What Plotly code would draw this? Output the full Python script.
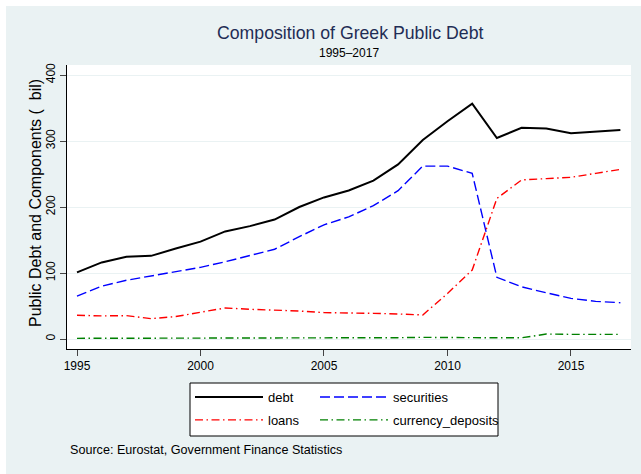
import plotly.graph_objects as go

# Greek general government debt and its main components, EUR billions
years = list(range(1995, 2018))
debt = [101, 116, 124.7, 126, 137, 147.5, 163, 171, 181, 200, 214.5, 225,
        240, 264.6, 301.5, 330, 356.6, 304.5, 320, 319, 311.6, 314.6, 316.6]
securities = [65, 80, 89, 95.5, 102.5, 108.6, 117, 126, 136, 155, 173, 185,
              202, 224.7, 262, 262, 251, 93.5, 79, 70, 61.6, 57, 55]
loans = [36, 35, 35.4, 30.8, 34, 40, 47, 45, 44, 42.4, 40, 40,
         38.9, 37.9, 36.4, 69, 104.5, 213, 241, 243, 245, 251, 257]
currency_deposits = [1, 1, 1, 1, 1, 1, 1, 1.2, 1.5, 1.8, 2, 2,
                     2, 2, 2.5, 2, 1.8, 1.8, 1.8, 7.5, 7, 7, 7]

x_ticks = [1995, 2000, 2005, 2010, 2015]
y_ticks = [0, 100, 200, 300, 400]

W, H = 641, 474
L, R, T, B = 67, 10, 65, 125
pw, ph = W - L - R, H - T - B


def px_x(p):
    return (p - L) / pw


def px_y(p):
    return (H - B - p) / ph


fig = go.Figure()
fig.add_trace(go.Scatter(x=years, y=debt, name="debt", mode="lines",
                         line=dict(color="#000000", width=2),
                         legend="legend", legendgroup="a"))
fig.add_trace(go.Scatter(x=years, y=securities, name="securities", mode="lines",
                         line=dict(color="#0000ff", width=1.4, dash="10px,4px"),
                         legend="legend2", legendgroup="b"))
fig.add_trace(go.Scatter(x=years, y=loans, name="loans", mode="lines",
                         line=dict(color="#ff0000", width=1.4,
                                   dash="8px,3.5px,1.5px,3.5px"),
                         legend="legend", legendgroup="c"))
fig.add_trace(go.Scatter(x=years, y=currency_deposits, name="currency_deposits",
                         mode="lines",
                         line=dict(color="#008000", width=1.4,
                                   dash="8px,3.5px,1.5px,3.5px"),
                         legend="legend2", legendgroup="d"))

bg = "#eaf2f3"
font = "Liberation Sans, Arial, sans-serif"

legend_common = dict(orientation="v", bgcolor="rgba(0,0,0,0)", borderwidth=0,
                     font=dict(family=font, size=13, color="#000"),
                     xanchor="left", yanchor="top", itemwidth=68,
                     tracegroupgap=3)

fig.update_layout(
    width=W, height=H,
    margin=dict(l=L, r=R, t=T, b=B),
    paper_bgcolor=bg, plot_bgcolor="#ffffff",
    font=dict(family=font, color="#000"),
    showlegend=True,
    legend=dict(x=px_x(190), y=px_y(382), **legend_common),
    legend2=dict(x=px_x(315), y=px_y(382), **legend_common),
    xaxis=dict(range=[1994.595, 2017.43], tickvals=x_ticks, ticks="outside",
               ticklen=6, tickcolor="#444", showline=True, linecolor="#000",
               linewidth=1, showgrid=False, zeroline=False,
               tickfont=dict(size=12, color="#000")),
    yaxis=dict(range=[-15.15, 415.15], tickvals=y_ticks, ticks="outside",
               ticklen=6, tickcolor="#444", showline=True, linecolor="#000",
               linewidth=1, showgrid=True, gridcolor=bg, gridwidth=1,
               zeroline=False, tickangle=-90,
               tickfont=dict(size=12, color="#000")),
    shapes=[
        # legend frame
        dict(type="rect", xref="paper", yref="paper",
             x0=px_x(190), x1=px_x(498), y0=px_y(436), y1=px_y(383),
             fillcolor="#ffffff", line=dict(color="#000", width=1),
             layer="above"),
        # white page edges
        dict(type="rect", xref="paper", yref="paper",
             x0=px_x(0), x1=px_x(6), y0=px_y(H), y1=px_y(0),
             fillcolor="#ffffff", line=dict(width=0)),
        dict(type="rect", xref="paper", yref="paper",
             x0=px_x(0), x1=px_x(W), y0=px_y(6), y1=px_y(0),
             fillcolor="#ffffff", line=dict(width=0)),
    ],
    annotations=[
        dict(text="Composition of Greek Public Debt", xref="paper", yref="paper",
             x=px_x(350), y=px_y(33), xanchor="center", yanchor="middle",
             showarrow=False, font=dict(size=17.7, color="#1f2d55")),
        dict(text="1995\u20132017", xref="paper", yref="paper",
             x=px_x(349), y=px_y(53), xanchor="center", yanchor="middle",
             showarrow=False, font=dict(size=12, color="#000")),
        dict(text="Public Debt and Components (  bil)", xref="paper",
             yref="paper", x=px_x(35), y=px_y(203), xanchor="center",
             yanchor="middle", textangle=-90, showarrow=False,
             font=dict(size=16, color="#000")),
        dict(text="Source: Eurostat, Government Finance Statistics",
             xref="paper", yref="paper", x=px_x(68), y=px_y(450),
             xanchor="left", yanchor="middle", showarrow=False,
             font=dict(size=12.6, color="#000")),
    ],
)

fig.write_html("out.html")
